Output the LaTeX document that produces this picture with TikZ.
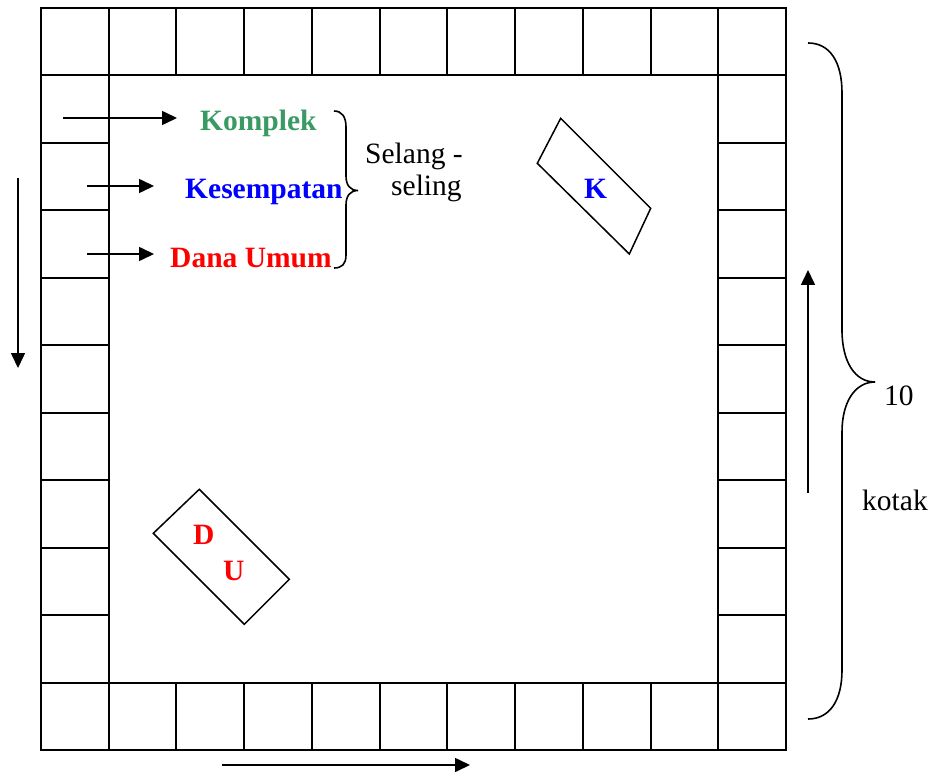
\documentclass[tikz,border=0pt]{standalone}
\usepackage{fontspec}
\setmainfont{Liberation Serif}
\usetikzlibrary{arrows.meta}
\definecolor{kgreen}{RGB}{58,154,100}
\definecolor{kblue}{RGB}{0,0,255}
\definecolor{kred}{RGB}{255,0,0}
\begin{document}
\begin{tikzpicture}[x=1pt,y=-1pt,
  grid/.style={line width=2pt},
  card/.style={line width=1.5pt, line join=miter},
  brace/.style={line width=1.6pt},
  arr/.style={line width=1.6pt, -{Triangle[length=15pt,width=14pt]}},
  lbl/.style={inner sep=0pt, anchor=base west, font=\fontsize{29.5}{34}\selectfont},
  blbl/.style={lbl, font=\fontsize{29.5}{34}\selectfont\bfseries}]
\useasboundingbox (0,0) rectangle (933,775);

% board: ring of 11 x 11 squares
\def\cw{67.727}
\def\ch{67.455}
\draw[grid] (41,8) rectangle (786,750);
\draw[grid] (41+\cw,8+\ch) rectangle (786-\cw,750-\ch);
\foreach \i in {1,...,10}{
  \draw[grid] (41+\i*\cw,8) -- (41+\i*\cw,8+\ch);
  \draw[grid] (41+\i*\cw,750-\ch) -- (41+\i*\cw,750);
  \draw[grid] (41,8+\i*\ch) -- (41+\cw,8+\i*\ch);
  \draw[grid] (786-\cw,8+\i*\ch) -- (786,8+\i*\ch);
}

% card piles
\draw[card] (560.7,118.3) -- (650.7,208.3) -- (629.3,254) -- (537.3,163.3) -- cycle;
\draw[card] (199.3,489.3) -- (289.3,579.3) -- (244.3,624.3) -- (153.3,533.3) -- cycle;
\node[blbl, text=kblue] (k) at (584,199) {K};
\node[blbl, text=kred] (d) at (193,544) {D};
\node[blbl, text=kred] (u) at (223,580) {U};

% card types
\node[blbl, text=kgreen] (komplek) at (200,131) {Komplek};
\node[blbl, text=kblue] (kesempatan) at (185,199) {Kesempatan};
\node[blbl, text=kred] (dana) at (170,268) {Dana Umum};
\node[lbl] (selang) at (365,164) {Selang -};
\node[lbl] (seling) at (391,196) {seling};

\coordinate (a1s) at (63,118);   \coordinate (a1e) at (177,118);
\coordinate (a2s) at (87,186);   \coordinate (a2e) at (154,186);
\coordinate (a3s) at (87,254);   \coordinate (a3e) at (154,254);
\draw[arr] (a1s) -- (a1e);
\draw[arr] (a2s) -- (a2e);
\draw[arr] (a3s) -- (a3e);

% small brace grouping the three card types
\draw[brace] (334,111) .. controls (342,111) and (346,117) .. (346,127)
  -- (346,176) .. controls (346,185) and (350,190.5) .. (358,190.5)
  .. controls (350,190.5) and (346,196) .. (346,205)
  -- (346,255) .. controls (346,264) and (342,268) .. (334,268);

% direction of play
\coordinate (ls) at (18,178);   \coordinate (le) at (18,368);
\coordinate (bs) at (222,765);  \coordinate (be) at (470,765);
\coordinate (rs) at (808,493);  \coordinate (re) at (808,270);
\draw[arr] (ls) -- (le);
\draw[arr] (bs) -- (be);
\draw[arr] (rs) -- (re);

% brace along the right column
\draw[brace] (808,43) .. controls (830,43) and (842,62) .. (842,93)
  -- (842,330) .. controls (842,362) and (855,382) .. (875,382)
  .. controls (855,382) and (842,402) .. (842,432)
  -- (842,670) .. controls (842,700) and (830,719) .. (808,719);
\node[lbl] (ten) at (884,405) {10};
\node[lbl] (kotak) at (862,510) {kotak};
\end{tikzpicture}
\end{document}
